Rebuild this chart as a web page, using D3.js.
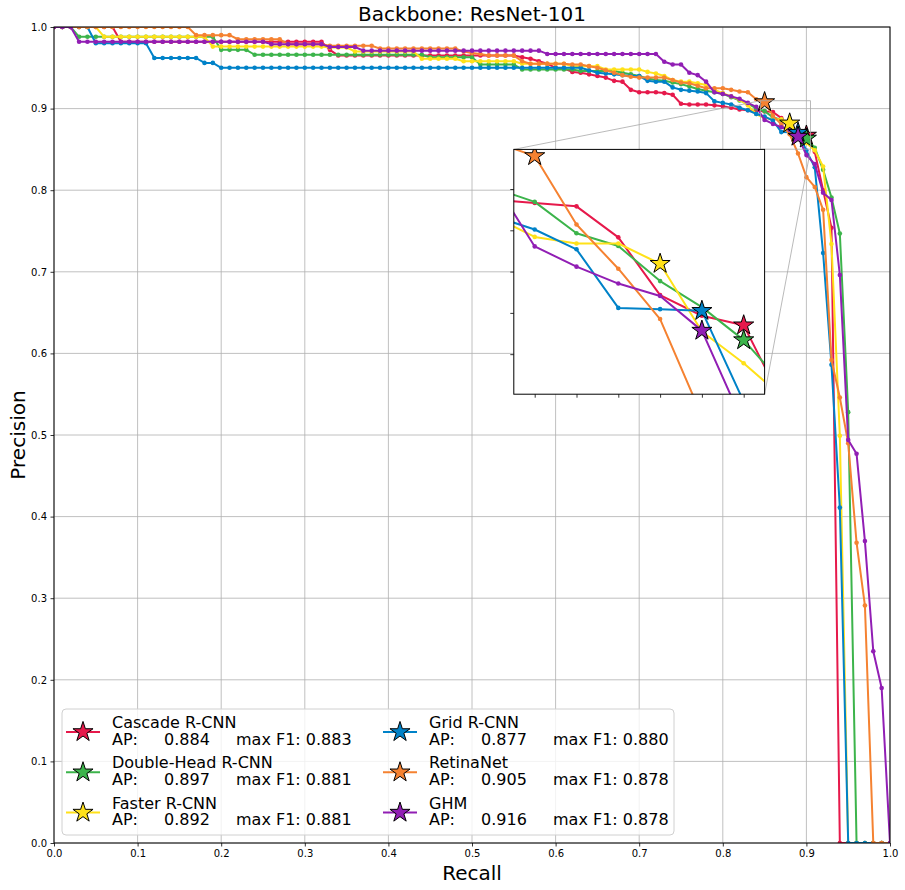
<!DOCTYPE html>
<html>
<head>
<meta charset="utf-8">
<script src="https://cdn.jsdelivr.net/npm/d3@7"></script>
<style>
  body { margin: 0; background: #fff; }
  svg { font-family: 'DejaVu Sans', sans-serif; }
</style>
</head>
<body>
<div id="chart"></div>
<script>
// recall thresholds used by the COCO evaluation: 0.00, 0.01, ... 1.00
const recall = d3.range(101).map((i) => i / 100)

const models = ['Cascade R-CNN', 'Double-Head R-CNN', 'Faster R-CNN', 'Grid R-CNN', 'RetinaNet', 'GHM']
const apLabels = ['0.884', '0.897', '0.892', '0.877', '0.905', '0.916']
const f1Labels = ['0.883', '0.881', '0.881', '0.880', '0.878', '0.878']
const colors = ['#e6194b', '#3cb44b', '#ffe119', '#0082c8', '#f58231', '#911eb4']

// precision at each recall threshold
const cascade = [
  1, 1, 1, 1, 1, 1, 1, 1, 0.982, 0.982,
  0.982, 0.982, 0.982, 0.982, 0.982, 0.982, 0.982, 0.982, 0.982, 0.982,
  0.982, 0.982, 0.982, 0.982, 0.982, 0.982, 0.982, 0.982, 0.982, 0.982,
  0.982, 0.982, 0.982, 0.972, 0.965, 0.965, 0.965, 0.965, 0.965, 0.965,
  0.965, 0.965, 0.965, 0.965, 0.965, 0.965, 0.965, 0.965, 0.965, 0.965,
  0.965, 0.965, 0.965, 0.965, 0.965, 0.965, 0.963, 0.961, 0.958, 0.955,
  0.950, 0.949, 0.945, 0.944, 0.942, 0.940, 0.938, 0.934, 0.933, 0.923,
  0.920, 0.920, 0.920, 0.919, 0.917, 0.906, 0.905, 0.905, 0.905, 0.904,
  0.903, 0.901, 0.899, 0.898, 0.8975, 0.8966, 0.8958, 0.8883, 0.8743, 0.8693,
  0.867, 0.847, 0.800, 0.754, 0, 0, 0, 0, 0, 0,
  0
]

const doubleHead = [
  1, 1, 1, 0.988, 0.988, 0.988, 0.988, 0.988, 0.988, 0.988,
  0.988, 0.988, 0.988, 0.988, 0.988, 0.988, 0.988, 0.988, 0.988, 0.988,
  0.972, 0.972, 0.972, 0.972, 0.966, 0.966, 0.966, 0.966, 0.966, 0.966,
  0.966, 0.966, 0.966, 0.966, 0.966, 0.966, 0.966, 0.966, 0.966, 0.966,
  0.966, 0.966, 0.966, 0.966, 0.966, 0.963, 0.963, 0.963, 0.963, 0.963,
  0.963, 0.954, 0.954, 0.954, 0.954, 0.954, 0.948, 0.948, 0.948, 0.948,
  0.948, 0.948, 0.948, 0.946, 0.946, 0.946, 0.946, 0.946, 0.944, 0.942,
  0.940, 0.937, 0.935, 0.934, 0.932, 0.930, 0.927, 0.924, 0.922, 0.920,
  0.918, 0.914, 0.910, 0.906, 0.9003, 0.8969, 0.8893, 0.8862, 0.8777, 0.8714,
  0.8634, 0.852, 0.825, 0.791, 0.747, 0.528, 0, 0, 0, 0,
  0
]

const faster = [
  1, 1, 1, 1, 1, 1, 0.988, 0.988, 0.988, 0.988,
  0.988, 0.988, 0.988, 0.988, 0.988, 0.988, 0.988, 0.988, 0.988, 0.976,
  0.976, 0.976, 0.976, 0.976, 0.976, 0.976, 0.976, 0.976, 0.976, 0.976,
  0.976, 0.976, 0.976, 0.975, 0.975, 0.975, 0.970, 0.970, 0.970, 0.970,
  0.970, 0.970, 0.970, 0.970, 0.961, 0.961, 0.961, 0.961, 0.961, 0.958,
  0.958, 0.958, 0.958, 0.958, 0.958, 0.958, 0.955, 0.955, 0.955, 0.955,
  0.955, 0.955, 0.952, 0.952, 0.952, 0.952, 0.948, 0.948, 0.948, 0.948,
  0.948, 0.945, 0.943, 0.940, 0.935, 0.933, 0.933, 0.931, 0.929, 0.923,
  0.919, 0.915, 0.911, 0.904, 0.8934, 0.8884, 0.8868, 0.8868, 0.8819, 0.8655,
  0.8578, 0.849, 0.829, 0.734, 0.499, 0, 0, 0, 0, 0,
  0
]

const grid = [
  1, 1, 1, 1, 1, 0.980, 0.980, 0.980, 0.980, 0.980,
  0.980, 0.980, 0.962, 0.962, 0.962, 0.962, 0.962, 0.962, 0.956, 0.956,
  0.950, 0.950, 0.950, 0.950, 0.950, 0.950, 0.950, 0.950, 0.950, 0.950,
  0.950, 0.950, 0.950, 0.950, 0.950, 0.950, 0.950, 0.950, 0.950, 0.950,
  0.950, 0.950, 0.950, 0.950, 0.950, 0.950, 0.950, 0.950, 0.950, 0.950,
  0.950, 0.950, 0.950, 0.950, 0.950, 0.950, 0.950, 0.950, 0.950, 0.950,
  0.950, 0.950, 0.950, 0.950, 0.947, 0.944, 0.943, 0.942, 0.941, 0.940,
  0.940, 0.934, 0.933, 0.933, 0.926, 0.923, 0.922, 0.921, 0.919, 0.909,
  0.907, 0.905, 0.901, 0.898, 0.8935, 0.8902, 0.8854, 0.8712, 0.8709, 0.8705,
  0.8485, 0.828, 0.723, 0.586, 0.411, 0, 0, 0, 0, 0,
  0
]

const retina = [
  1, 1, 1, 1, 1, 1, 1, 1, 1, 1,
  1, 1, 1, 1, 1, 1, 1, 0.990, 0.990, 0.990,
  0.990, 0.990, 0.985, 0.985, 0.985, 0.985, 0.985, 0.985, 0.979, 0.979,
  0.979, 0.979, 0.979, 0.977, 0.977, 0.977, 0.977, 0.977, 0.977, 0.9735,
  0.9735, 0.9735, 0.9735, 0.9735, 0.9735, 0.9735, 0.9735, 0.9735, 0.9735, 0.970,
  0.968, 0.967, 0.965, 0.965, 0.965, 0.965, 0.958, 0.955, 0.955, 0.955,
  0.955, 0.955, 0.954, 0.954, 0.952, 0.950, 0.947, 0.944, 0.941, 0.939,
  0.938, 0.938, 0.938, 0.938, 0.935, 0.932, 0.931, 0.928, 0.925, 0.925,
  0.925, 0.923, 0.921, 0.920, 0.9115, 0.908, 0.8914, 0.8807, 0.8685, 0.845,
  0.816, 0.804, 0.776, 0.592, 0.546, 0.490, 0.368, 0.291, 0, 0,
  0
]

const ghm = [
  1, 1, 1, 0.982, 0.982, 0.982, 0.982, 0.982, 0.982, 0.982,
  0.982, 0.982, 0.982, 0.982, 0.982, 0.982, 0.982, 0.982, 0.982, 0.982,
  0.982, 0.982, 0.982, 0.982, 0.982, 0.982, 0.979, 0.979, 0.979, 0.979,
  0.979, 0.979, 0.979, 0.9755, 0.9755, 0.9755, 0.9755, 0.971, 0.971, 0.971,
  0.971, 0.971, 0.971, 0.971, 0.971, 0.971, 0.971, 0.971, 0.971, 0.971,
  0.971, 0.971, 0.971, 0.971, 0.971, 0.971, 0.971, 0.971, 0.971, 0.967,
  0.967, 0.967, 0.967, 0.967, 0.967, 0.967, 0.967, 0.967, 0.967, 0.967,
  0.967, 0.967, 0.967, 0.9575, 0.954, 0.954, 0.944, 0.941, 0.933, 0.920,
  0.918, 0.915, 0.912, 0.907, 0.9022, 0.8861, 0.8812, 0.8771, 0.8741, 0.8657,
  0.843, 0.832, 0.797, 0.788, 0.696, 0.494, 0.477, 0.370, 0.235, 0.190,
  0
]

const precisions = [cascade, doubleHead, faster, grid, retina, ghm]

// zoomed window of the inset
const insetRecall = [0.845, 0.905]
const insetPrecision = [0.8503, 0.9096]
const insetRecallTicks = [0.85, 0.86, 0.87, 0.88, 0.89, 0.90]
const insetPrecisionTicks = [0.86, 0.87, 0.88, 0.89, 0.90]

const W = 905
const H = 890
const margin = { top: 27, right: 15, bottom: 47, left: 54 }
const width = W - margin.left - margin.right
const height = H - margin.top - margin.bottom

const series = models.map((name, k) => {
  const points = recall.map((r, i) => ({ r, p: precisions[k][i] }))
  // point of maximum F1 gets the star
  const best = d3.greatest(points, (d) => (d.r + d.p > 0 ? 2 * d.r * d.p / (d.r + d.p) : 0))
  return { name, color: colors[k], ap: apLabels[k], f1: f1Labels[k], points, best }
})

const svg = d3.select('#chart').append('svg')
  .attr('width', W)
  .attr('height', H)

const g = svg.append('g')
  .attr('transform', `translate(${margin.left}, ${margin.top})`)

const x = d3.scaleLinear().domain([0, 1]).range([0, width])
const y = d3.scaleLinear().domain([0, 1]).range([height, 0])
const gridTicks = x.ticks(10)

svg.append('defs').append('clipPath')
  .attr('id', 'plot-clip')
  .append('rect')
  .attr('width', width)
  .attr('height', height)

// GRID
const gridG = g.append('g').attr('stroke', '#b0b0b0').attr('stroke-width', 0.8)
gridG.selectAll('.gx').data(gridTicks).enter().append('line')
  .attr('x1', (d) => x(d)).attr('x2', (d) => x(d))
  .attr('y1', 0).attr('y2', height)
gridG.selectAll('.gy').data(gridTicks).enter().append('line')
  .attr('y1', (d) => y(d)).attr('y2', (d) => y(d))
  .attr('x1', 0).attr('x2', width)

// AXES
const fmt = d3.format('.1f')
const xAxis = g.append('g')
  .attr('transform', `translate(0, ${height})`)
  .call(d3.axisBottom(x).ticks(10).tickFormat(fmt).tickSize(3.5).tickPadding(3.5))
const yAxis = g.append('g')
  .call(d3.axisLeft(y).ticks(10).tickFormat(fmt).tickSize(3.5).tickPadding(3.5))

;[xAxis, yAxis].forEach((a) => {
  a.select('.domain').remove()
  a.selectAll('text').attr('font-size', 10).attr('font-family', 'DejaVu Sans').attr('fill', '#000')
  a.selectAll('line').attr('stroke', '#000').attr('stroke-width', 0.8)
})

function drawCurves (parent, sx, sy, clipId) {
  const line = d3.line().x((d) => sx(d.r)).y((d) => sy(d.p))
  const layer = parent.append('g').attr('clip-path', `url(#${clipId})`)

  const groups = layer.selectAll('.curve').data(series).enter()
    .append('g').attr('class', 'curve')

  groups.append('path')
    .attr('d', (d) => line(d.points))
    .attr('fill', 'none')
    .attr('stroke', (d) => d.color)
    .attr('stroke-width', 2)
    .attr('stroke-linejoin', 'round')

  groups.selectAll('circle').data((d) => d.points.map((p) => ({ ...p, color: d.color }))).enter()
    .append('circle')
    .attr('cx', (d) => sx(d.r))
    .attr('cy', (d) => sy(d.p))
    .attr('r', 2.3)
    .attr('fill', (d) => d.color)

  layer.selectAll('.star').data(series).enter()
    .append('path')
    .attr('class', 'star')
    .attr('transform', (d) => `translate(${sx(d.best.r)}, ${sy(d.best.p)})`)
    .attr('d', d3.symbol(d3.symbolStar, 125))
    .attr('fill', (d) => d.color)
    .attr('stroke', '#000')
    .attr('stroke-width', 1)
}

drawCurves(g, x, y, 'plot-clip')

// INSET placement in axes fraction
const ix0 = x(0.55)
const ix1 = x(0.85)
const iy0 = y(0.85)
const iy1 = y(0.55)
const iw = ix1 - ix0
const ih = iy1 - iy0

const ix = d3.scaleLinear().domain(insetRecall).range([0, iw])
const iy = d3.scaleLinear().domain(insetPrecision).range([ih, 0])

// mark inset on the main axes
const markG = g.append('g')
  .attr('stroke', '#a8a8a8')
  .attr('stroke-width', 0.8)
  .attr('fill', 'none')
markG.append('rect')
  .attr('x', x(insetRecall[0]))
  .attr('y', y(insetPrecision[1]))
  .attr('width', x(insetRecall[1]) - x(insetRecall[0]))
  .attr('height', y(insetPrecision[0]) - y(insetPrecision[1]))
markG.append('line')
  .attr('x1', ix0).attr('y1', iy0)
  .attr('x2', x(insetRecall[0])).attr('y2', y(insetPrecision[1]))
markG.append('line')
  .attr('x1', ix1).attr('y1', iy1)
  .attr('x2', x(insetRecall[1])).attr('y2', y(insetPrecision[0]))

const inset = g.append('g')
  .attr('transform', `translate(${ix0}, ${iy0})`)

svg.select('defs').append('clipPath')
  .attr('id', 'inset-clip')
  .append('rect')
  .attr('width', iw)
  .attr('height', ih)

inset.append('rect')
  .attr('width', iw)
  .attr('height', ih)
  .attr('fill', '#fff')

drawCurves(inset, ix, iy, 'inset-clip')

const insetX = inset.append('g')
  .attr('transform', `translate(0, ${ih})`)
  .call(d3.axisBottom(ix).tickValues(insetRecallTicks).tickFormat('').tickSize(3.5))
const insetY = inset.append('g')
  .call(d3.axisLeft(iy).tickValues(insetPrecisionTicks).tickFormat('').tickSize(3.5))
;[insetX, insetY].forEach((a) => {
  a.select('.domain').remove()
  a.selectAll('line').attr('stroke', '#000').attr('stroke-width', 0.8)
})

inset.append('rect')
  .attr('width', iw)
  .attr('height', ih)
  .attr('fill', 'none')
  .attr('stroke', '#000')
  .attr('stroke-width', 1)

// FRAME
g.append('rect')
  .attr('width', width)
  .attr('height', height)
  .attr('fill', 'none')
  .attr('stroke', '#000')
  .attr('stroke-width', 1)

// LEGEND
const legend = g.append('g')
  .attr('transform', `translate(${62 - margin.left}, ${709 - margin.top})`)

legend.append('rect')
  .attr('width', 612)
  .attr('height', 126)
  .attr('rx', 4)
  .attr('fill', '#fff')
  .attr('fill-opacity', 0.8)
  .attr('stroke', '#d0d0d0')
  .attr('stroke-width', 1)

const colWidth = 317
const rowHeight = 40.3

const entries = legend.selectAll('.entry').data(series).enter()
  .append('g')
  .attr('class', 'entry')
  .attr('transform', (d, i) => `translate(${4 + Math.floor(i / 3) * colWidth}, ${19 + (i % 3) * rowHeight})`)

entries.append('line')
  .attr('x1', 0).attr('x2', 34)
  .attr('y1', 4).attr('y2', 4)
  .attr('stroke', (d) => d.color)
  .attr('stroke-width', 2)

entries.append('path')
  .attr('transform', 'translate(17, 4)')
  .attr('d', d3.symbol(d3.symbolStar, 125))
  .attr('fill', (d) => d.color)
  .attr('stroke', '#000')
  .attr('stroke-width', 1)

entries.append('text')
  .attr('x', 46)
  .attr('font-size', 16)
  .text((d) => d.name)

const apLine = entries.append('text')
  .attr('y', 16.7)
  .attr('font-size', 16)
apLine.append('tspan').attr('x', 46).text('AP:')
apLine.append('tspan').attr('x', 98).text((d) => d.ap)
apLine.append('tspan').attr('x', 170).text((d) => `max F1: ${d.f1}`)

// LABELS
svg.append('text')
  .attr('x', margin.left + width / 2)
  .attr('y', 21)
  .attr('text-anchor', 'middle')
  .attr('font-size', 20)
  .text('Backbone: ResNet-101')

svg.append('text')
  .attr('x', margin.left + width / 2)
  .attr('y', 880)
  .attr('text-anchor', 'middle')
  .attr('font-size', 20)
  .text('Recall')

svg.append('text')
  .attr('transform', `translate(25, ${margin.top + height / 2}) rotate(-90)`)
  .attr('text-anchor', 'middle')
  .attr('font-size', 20)
  .text('Precision')
</script>
</body>
</html>
